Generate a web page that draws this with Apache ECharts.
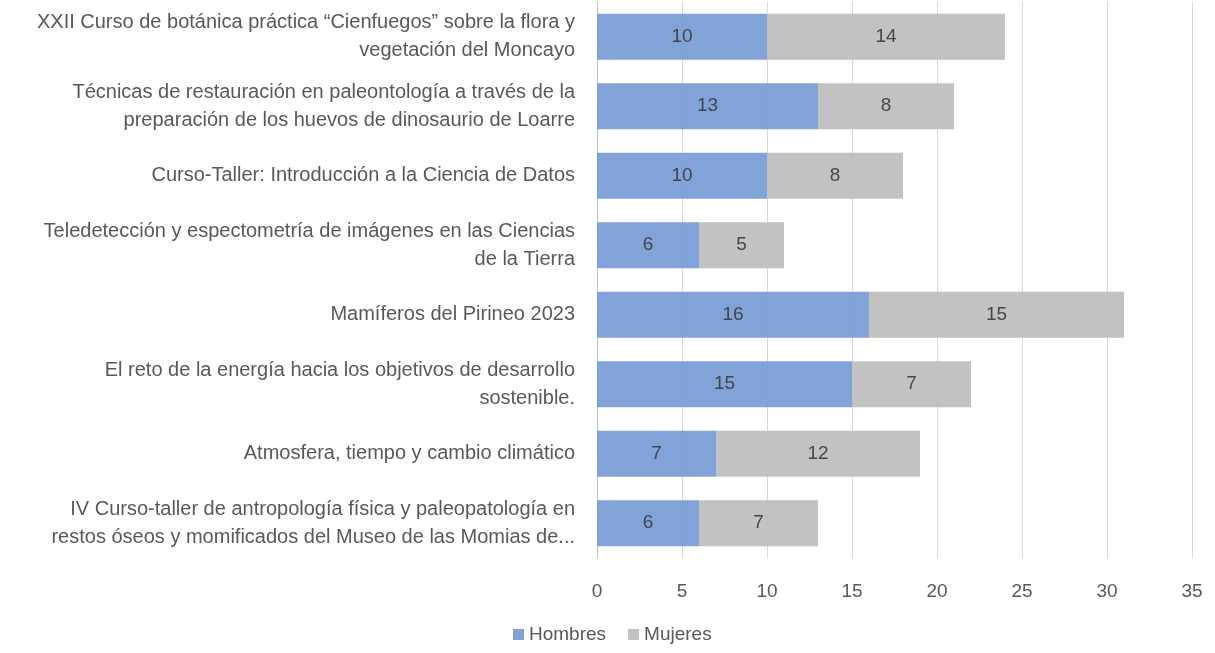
<!DOCTYPE html>
<html lang="es">
<head>
  <meta charset="UTF-8" />
  <title>Cursos: Hombres y Mujeres</title>
  <script src="https://cdn.jsdelivr.net/npm/echarts@6/dist/echarts.min.js"></script>
  <style>
    html, body { margin: 0; padding: 0; background: #fff; }
    #chart { width: 1215px; height: 653px; }
  </style>
</head>
<body>
  <div id="chart"></div>
  <script>
    // categories listed top to bottom as in the picture
    var cursos = [
      "XXII Curso de botánica práctica “Cienfuegos” sobre la flora y\nvegetación del Moncayo",
      "Técnicas de restauración en paleontología a través de la\npreparación de los huevos de dinosaurio de Loarre",
      "Curso-Taller: Introducción a la Ciencia de Datos",
      "Teledetección y espectometría de imágenes en las Ciencias\nde la Tierra",
      "Mamíferos del Pirineo 2023",
      "El reto de la energía hacia los objetivos de desarrollo\nsostenible.",
      "Atmosfera, tiempo y cambio climático",
      "IV Curso-taller de antropología física y paleopatología en\nrestos óseos y momificados del Museo de las Momias de..."
    ];
    var hombres = [10, 13, 10, 6, 16, 15, 7, 6];
    var mujeres = [14, 8, 8, 5, 15, 7, 12, 7];
    var xTicks = { min: 0, max: 35, step: 5 };

    var font = "Liberation Sans";
    var chart = echarts.init(document.getElementById("chart"));

    function barLabel() {
      return { show: true, position: "inside", color: "#404040", fontSize: 19, fontFamily: font };
    }

    chart.setOption({
      animation: false,
      textStyle: { fontFamily: font },
      legend: {
        data: ["Hombres", "Mujeres"],
        bottom: 4,
        left: 508,
        itemWidth: 11,
        itemHeight: 11,
        itemGap: 22,
        icon: "rect",
        textStyle: { color: "#595959", fontSize: 19, fontFamily: font }
      },
      grid: { left: 597, right: 23, top: 2, bottom: 95, containLabel: false },
      xAxis: {
        type: "value",
        min: xTicks.min,
        max: xTicks.max,
        interval: xTicks.step,
        axisLine: { show: false },
        axisTick: { show: false },
        axisLabel: { color: "#595959", fontSize: 19, margin: 24, fontFamily: font },
        splitLine: { lineStyle: { color: "#d9d9d9", width: 1 } }
      },
      yAxis: {
        type: "category",
        inverse: true,
        data: cursos,
        axisLine: { show: true, lineStyle: { color: "#bfbfbf", width: 1 } },
        axisTick: { show: false },
        axisLabel: {
          color: "#595959",
          fontSize: 20,
          fontFamily: font,
          margin: 22,
          lineHeight: 28,
          align: "right"
        }
      },
      series: [
        {
          name: "Hombres",
          type: "bar",
          stack: "total",
          barWidth: 46,
          data: hombres,
          itemStyle: { color: "#7b9ed6", opacity: 0.95 },
          label: barLabel()
        },
        {
          name: "Mujeres",
          type: "bar",
          stack: "total",
          barWidth: 46,
          data: mujeres,
          itemStyle: { color: "#bfbfbf", opacity: 0.95 },
          label: barLabel()
        }
      ]
    });
  </script>
</body>
</html>
